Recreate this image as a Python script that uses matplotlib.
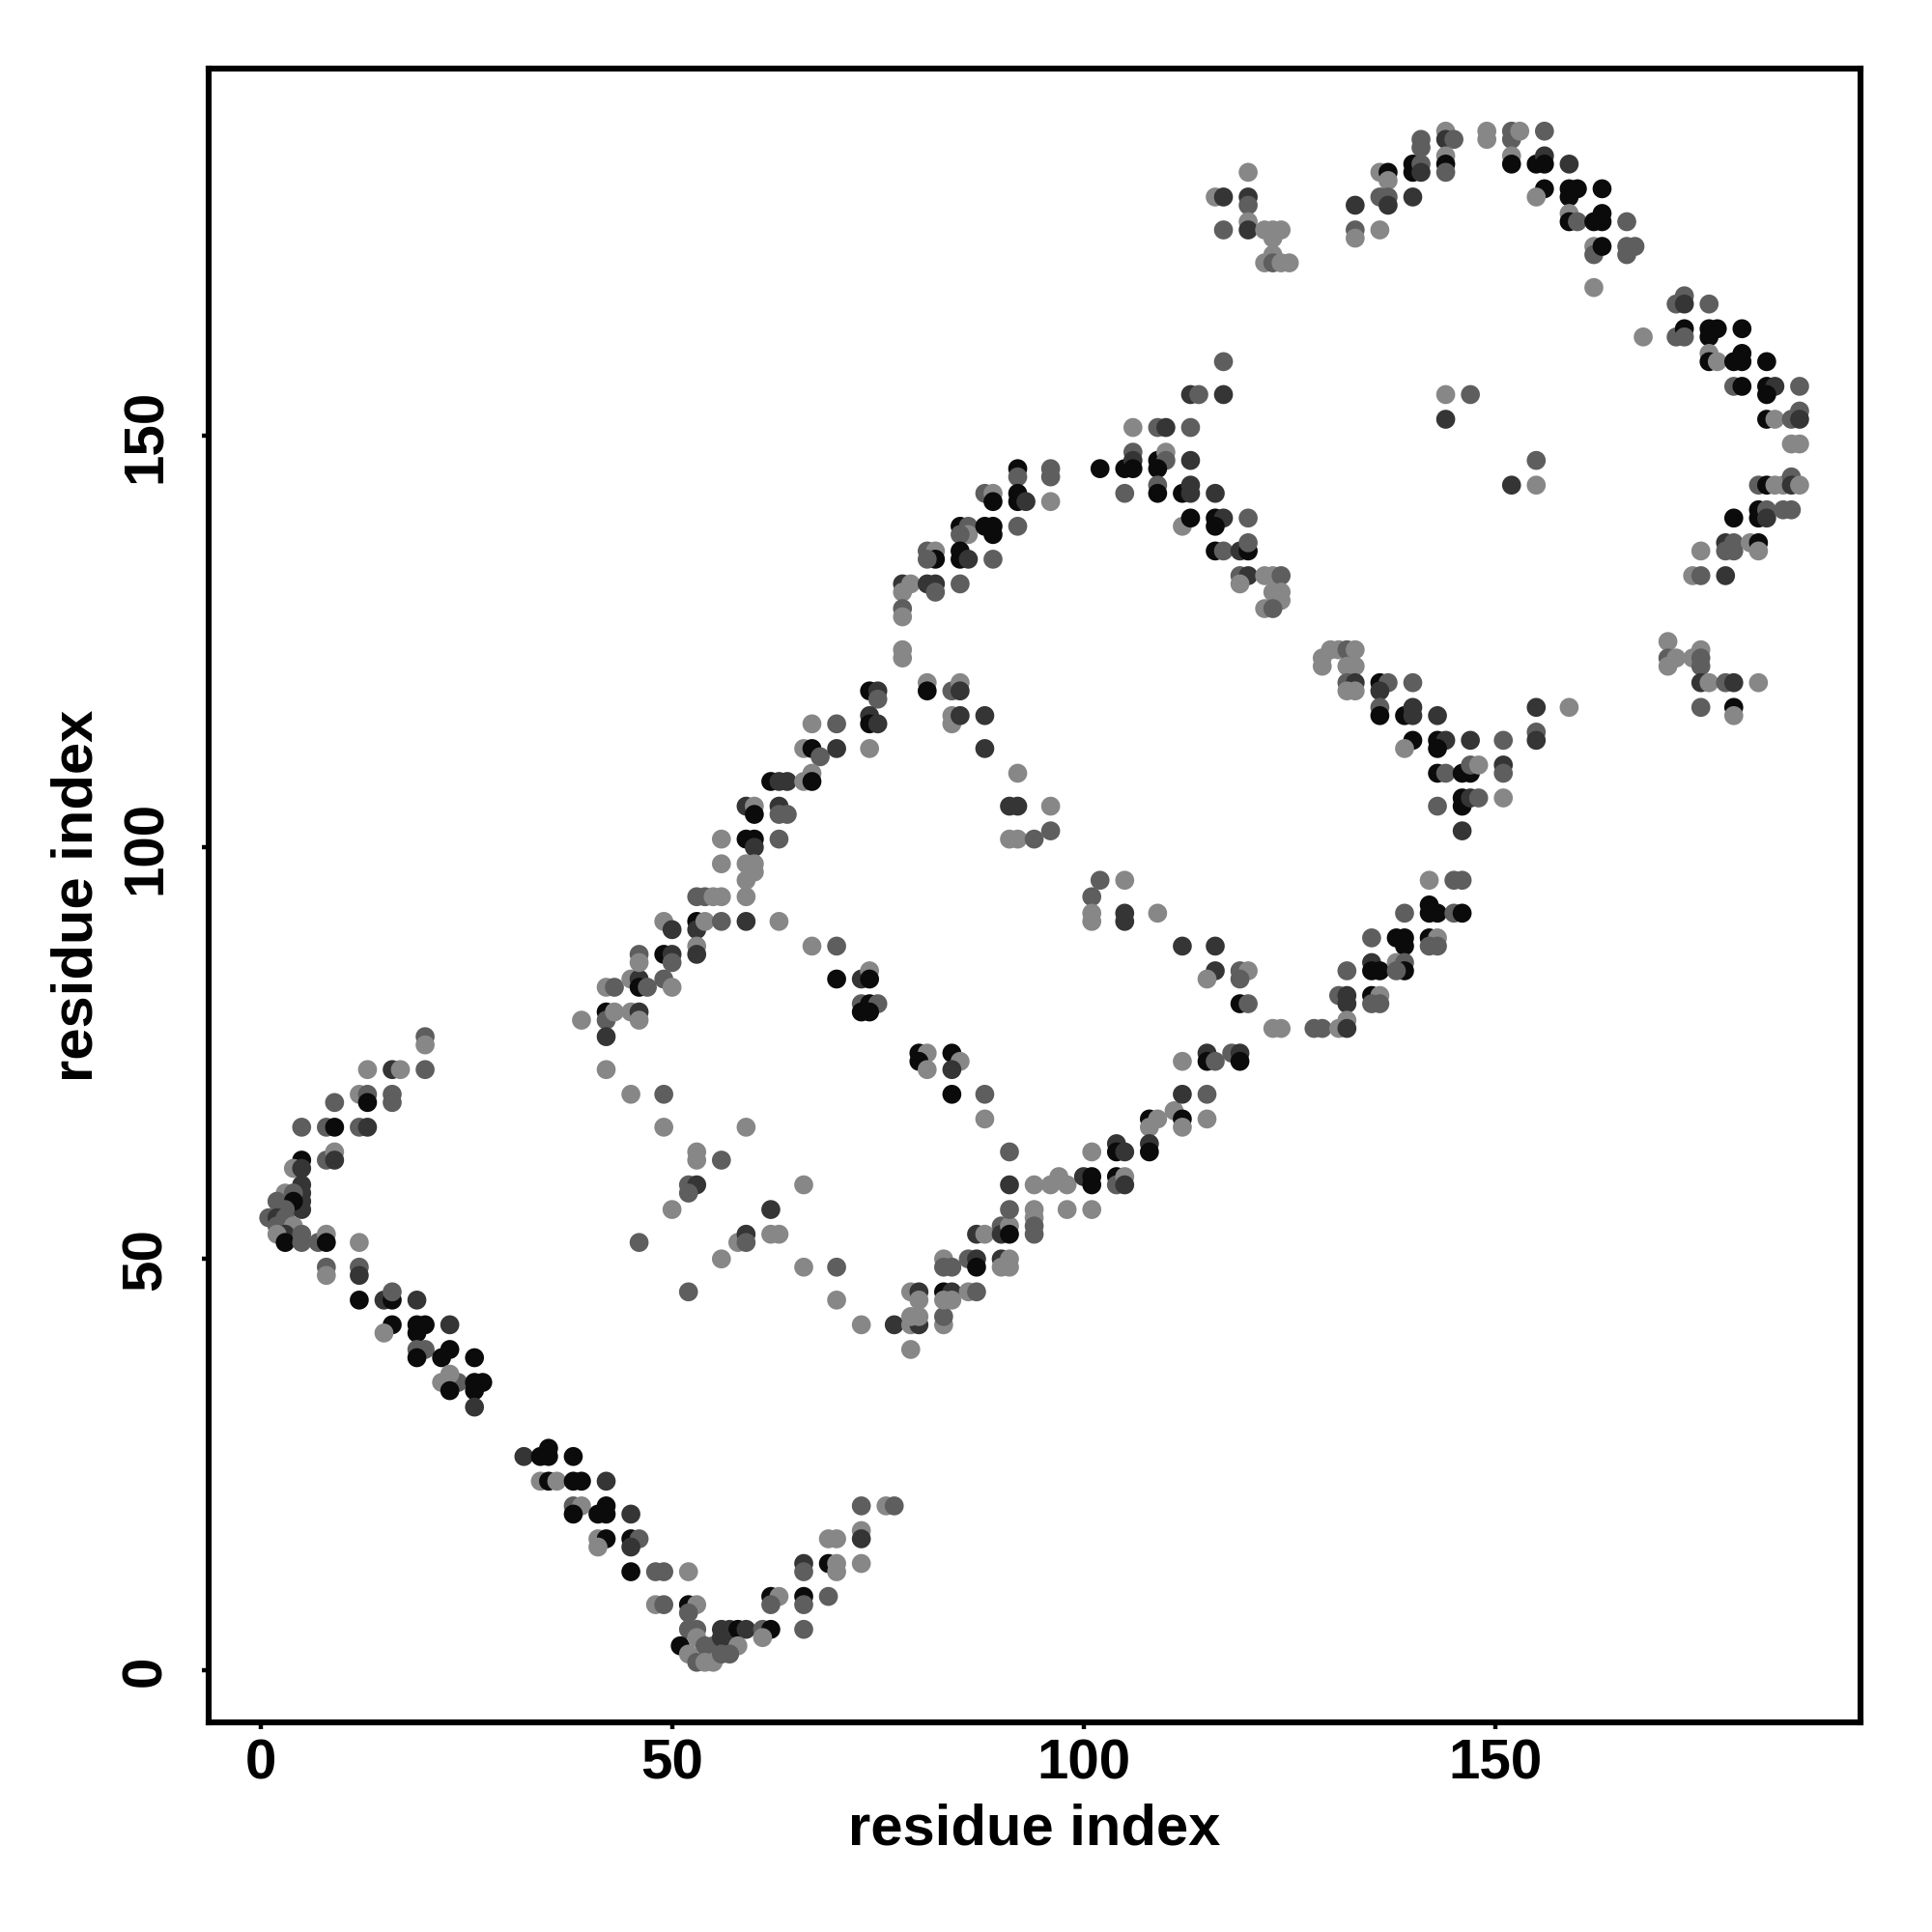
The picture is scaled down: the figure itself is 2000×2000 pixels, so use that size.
import matplotlib
matplotlib.use('Agg')
import matplotlib.pyplot as plt

# contact map: (residue i, residue j, shade) -- shade k=black, d=dark, m=mid, l=light
nose = [(5, 66, 'm'), (8, 66, 'm'), (9, 66, 'k'), (12, 66, 'm'), (13, 66, 'd'),
        (5, 62, 'k'), (4, 61, 'l'), (5, 61, 'd'), (8, 62, 'm'), (9, 63, 'l'), (9, 62, 'd'),
        (5, 59, 'd'), (5, 58, 'd'), (5, 57, 'd'), (5, 56, 'd'), (3, 58, 'l'), (4, 58, 'm'),
        (2, 57, 'm'), (4, 57, 'k'), (3, 56, 'm'), (1, 55, 'm'), (2, 55, 'd'), (3, 55, 'm'),
        (2, 54, 'm'), (4, 54, 'l'), (3, 53, 'd'), (2, 53, 'l'), (3, 52, 'k'), (5, 53, 'm'),
        (5, 52, 'm'), (7, 52, 'm'), (8, 53, 'l'), (8, 52, 'k'), (12, 52, 'l'),
        (8, 49, 'm'), (8, 48, 'l'), (12, 49, 'm'), (12, 48, 'd'),
        (12, 45, 'k'), (15, 45, 'd'), (16, 45, 'k'), (16, 46, 'm'), (19, 45, 'd'),
        (9, 69, 'm'), (12, 70, 'l'), (13, 70, 'm'), (13, 69, 'k'), (16, 70, 'm'), (16, 69, 'm'),
        (13, 73, 'l'), (16, 73, 'd'), (17, 73, 'l'), (20, 73, 'm'), (20, 77, 'm'), (20, 76, 'l')]

low_diag = [(16, 42, 'k'), (19, 42, 'k'), (20, 42, 'k'), (23, 42, 'd'), (15, 41, 'l'), (19, 41, 'k'),
            (19, 39, 'm'), (20, 39, 'm'), (23, 39, 'k'), (19, 38, 'k'), (22, 38, 'k'), (26, 38, 'k'),
            (22, 35, 'l'), (24, 35, 'm'), (26, 35, 'k'), (27, 35, 'k'), (23, 36, 'l'), (23, 34, 'k'),
            (26, 34, 'k'), (26, 32, 'd'),
            (32, 26, 'd'), (34, 26, 'k'), (35, 26, 'k'), (38, 26, 'k'), (35, 27, 'k'),
            (34, 23, 'l'), (35, 23, 'k'), (36, 23, 'l'), (38, 23, 'k'), (39, 23, 'k'), (42, 23, 'd'),
            (38, 20, 'm'), (39, 20, 'l'), (42, 20, 'k'), (38, 19, 'k'), (41, 19, 'k'), (42, 19, 'k'),
            (45, 19, 'd'), (41, 16, 'l'), (42, 16, 'k'), (45, 16, 'k'), (46, 16, 'm'), (41, 15, 'l'),
            (45, 15, 'd'), (45, 12, 'k'), (48, 12, 'm'), (49, 12, 'm'), (48, 8, 'l'), (49, 8, 'm')]

v_bottom = [(69, 16, 'l'), (70, 16, 'l'), (73, 17, 'l'), (73, 16, 'd'),
            (66, 13, 'd'), (66, 12, 'm'), (69, 13, 'k'), (70, 13, 'l'), (70, 12, 'l'), (73, 13, 'l'),
            (52, 12, 'l'), (62, 9, 'k'), (63, 9, 'l'), (62, 8, 'm'), (66, 9, 'k'), (66, 8, 'm'),
            (69, 9, 'm'), (52, 8, 'k'), (53, 8, 'l'), (52, 7, 'm'),
            (52, 5, 'm'), (53, 5, 'm'), (56, 5, 'd'), (57, 5, 'd'), (58, 5, 'k'), (59, 5, 'd'),
            (61, 5, 'm'), (62, 5, 'k'), (61, 4, 'l'), (66, 5, 'm'),
            (51, 3, 'k'), (53, 4, 'l'), (54, 3, 'm'), (55, 3, 'm'), (56, 4, 'd'), (57, 3, 'd'),
            (58, 3, 'l'), (52, 2, 'l'), (53, 1, 'm'), (54, 1, 'l'), (55, 1, 'l'), (56, 2, 'm'),
            (57, 2, 'm'), (73, 20, 'm'), (76, 20, 'l'), (77, 20, 'm')]

mid_left = [(52, 59, 'm'), (53, 59, 'd'), (52, 58, 'm'), (50, 56, 'l'), (62, 56, 'd'), (46, 52, 'm'),
            (58, 52, 'l'), (59, 53, 'd'), (59, 52, 'm'), (62, 53, 'l'), (63, 53, 'l'), (56, 50, 'l'),
            (52, 46, 'm'),
            (39, 79, 'l'), (42, 80, 'k'), (42, 79, 'm'), (43, 80, 'l'), (42, 77, 'd'), (45, 80, 'l'),
            (46, 80, 'd'), (46, 79, 'l'), (42, 83, 'l'), (43, 83, 'm'), (45, 84, 'l'), (46, 84, 'd'),
            (46, 83, 'k'), (47, 83, 'm'), (49, 84, 'm'), (50, 83, 'l'), (46, 87, 'm'), (46, 86, 'l'),
            (49, 87, 'k'), (50, 87, 'd'), (50, 86, 'm'), (49, 91, 'l'), (50, 90, 'd'), (53, 91, 'k'),
            (53, 90, 'd'), (54, 91, 'l'), (56, 91, 'm'), (59, 91, 'd'), (63, 91, 'l'), (53, 88, 'l'),
            (53, 87, 'd'), (53, 94, 'm'), (54, 94, 'm'), (55, 94, 'l'), (56, 94, 'l'), (59, 94, 'l'),
            (56, 101, 'l'), (56, 98, 'l'), (59, 101, 'k'), (60, 101, 'k'), (60, 100, 'd'),
            (59, 98, 'l'), (60, 98, 'l'), (59, 96, 'l'), (60, 97, 'l'), (63, 101, 'm'),
            (59, 105, 'd'), (60, 105, 'l'), (60, 104, 'k'), (63, 105, 'd'), (63, 104, 'm'),
            (62, 108, 'k'), (63, 108, 'd'),
            (42, 73, 'l'), (45, 70, 'l'), (49, 70, 'm'), (49, 66, 'l'), (59, 66, 'l'), (53, 63, 'l'),
            (53, 62, 'l'), (56, 62, 'm')]

centre = [(78, 124, 'l'), (78, 123, 'l'), (74, 119, 'k'), (75, 119, 'd'), (75, 118, 'm'),
          (81, 120, 'l'), (81, 119, 'k'), (84, 119, 'm'), (85, 120, 'l'), (85, 119, 'd'),
          (67, 115, 'l'), (70, 115, 'm'), (74, 116, 'd'), (74, 115, 'k'), (75, 115, 'd'),
          (84, 116, 'l'), (84, 115, 'l'), (85, 116, 'd'), (88, 116, 'd'),
          (66, 112, 'l'), (67, 112, 'k'), (68, 111, 'm'), (70, 112, 'd'), (74, 112, 'l'), (88, 112, 'd'),
          (64, 108, 'd'), (66, 108, 'l'), (67, 109, 'l'), (67, 108, 'k'), (92, 109, 'l'), (64, 104, 'm'),
          (91, 105, 'd'), (92, 105, 'd'), (96, 105, 'l'), (91, 101, 'l'), (92, 101, 'l'),
          (94, 101, 'm'), (96, 102, 'm'),
          (101, 94, 'm'), (102, 96, 'm'), (105, 96, 'l'), (101, 92, 'l'), (101, 91, 'l'),
          (105, 92, 'd'), (105, 91, 'd'), (109, 92, 'l'), (67, 88, 'l'), (70, 88, 'm'),
          (70, 84, 'k'), (73, 84, 'd'), (74, 85, 'l'), (74, 84, 'k'), (73, 81, 'm'), (73, 80, 'k'),
          (74, 81, 'k'), (75, 81, 'm'), (74, 80, 'k'),
          (112, 88, 'd'), (116, 88, 'd'), (116, 85, 'd'), (115, 84, 'l'), (119, 85, 'm'),
          (120, 85, 'l'), (119, 84, 'm'), (119, 81, 'k'), (120, 81, 'm'),
          (123, 78, 'l'), (124, 78, 'l'), (128, 78, 'm'), (129, 78, 'm'),
          (80, 75, 'k'), (81, 75, 'l'), (80, 74, 'k'), (81, 73, 'l'), (84, 75, 'k'), (85, 74, 'l'),
          (84, 73, 'd'), (84, 70, 'k'), (88, 70, 'm'), (88, 67, 'l'),
          (91, 63, 'm'), (101, 63, 'l'), (104, 64, 'd'), (104, 63, 'k'), (105, 63, 'd'),
          (108, 67, 'k'), (109, 67, 'l'), (108, 66, 'l'), (108, 64, 'd'), (108, 63, 'k'),
          (111, 68, 'l'), (112, 67, 'k'), (112, 66, 'l'), (112, 70, 'd'), (115, 70, 'm'), (115, 67, 'l'),
          (112, 74, 'l'), (115, 75, 'd'), (115, 74, 'k'), (116, 74, 'm'), (118, 75, 'm'),
          (119, 75, 'd'), (119, 74, 'k')]

lower_mid = [(66, 59, 'l'), (66, 49, 'l'), (70, 49, 'm'), (70, 45, 'l'),
             (73, 42, 'l'), (77, 42, 'd'), (79, 42, 'l'), (80, 42, 'd'), (79, 43, 'l'), (80, 43, 'l'),
             (83, 42, 'l'), (83, 43, 'm'), (79, 39, 'l'),
             (79, 46, 'l'), (80, 46, 'd'), (80, 45, 'l'), (83, 46, 'k'), (84, 46, 'd'), (84, 45, 'l'),
             (83, 45, 'l'), (86, 46, 'l'), (87, 46, 'm'),
             (83, 50, 'l'), (83, 49, 'm'), (84, 49, 'm'), (86, 50, 'm'), (87, 50, 'd'), (87, 49, 'k'),
             (90, 50, 'd'), (91, 50, 'l'), (90, 49, 'l'), (91, 49, 'l'),
             (87, 53, 'd'), (88, 53, 'l'), (90, 54, 'm'), (90, 53, 'd'), (91, 54, 'l'), (91, 53, 'k'),
             (94, 56, 'l'), (94, 55, 'l'), (94, 54, 'm'), (94, 53, 'm'), (91, 56, 'm'),
             (91, 59, 'd'), (94, 59, 'l'), (96, 59, 'l'), (97, 60, 'l'), (98, 59, 'l'), (98, 56, 'l'),
             (101, 56, 'l'), (100, 60, 'd'), (101, 60, 'k'), (101, 59, 'k'), (104, 60, 'k'),
             (104, 59, 'm'), (105, 60, 'l'), (105, 59, 'd')]

right_mid = [(129, 123, 'l'), (130, 124, 'l'), (131, 124, 'l'), (132, 124, 'm'), (133, 124, 'l'),
             (129, 122, 'l'), (132, 122, 'l'), (133, 122, 'l'), (132, 120, 'm'), (133, 120, 'd'),
             (132, 119, 'l'), (133, 119, 'l'), (136, 120, 'k'), (137, 120, 'm'), (140, 120, 'm'),
             (136, 119, 'd'), (136, 117, 'm'), (136, 116, 'k'), (139, 116, 'k'), (140, 117, 'd'),
             (140, 116, 'd'), (143, 116, 'd'), (140, 113, 'k'), (139, 112, 'l'), (143, 113, 'k'),
             (144, 113, 'd'), (143, 112, 'k'), (147, 113, 'd'), (151, 113, 'm'),
             (143, 109, 'k'), (144, 109, 'm'), (146, 109, 'k'), (147, 109, 'k'), (147, 110, 'm'),
             (148, 110, 'l'), (151, 110, 'd'), (151, 109, 'm'), (143, 105, 'm'), (146, 106, 'k'),
             (146, 105, 'k'), (147, 106, 'd'), (148, 106, 'm'), (151, 106, 'l'), (146, 102, 'd'),
             (155, 117, 'd'), (159, 117, 'l'), (155, 114, 'm'), (155, 113, 'd'),
             (171, 125, 'l'), (171, 123, 'm'), (171, 122, 'l'), (172, 123, 'l'), (174, 123, 'l'),
             (175, 124, 'l'), (175, 123, 'm'), (175, 122, 'm'), (175, 120, 'd'), (176, 120, 'l'),
             (178, 120, 'm'), (179, 120, 'd'), (182, 120, 'l'), (175, 117, 'm'), (179, 117, 'k'),
             (179, 116, 'l'),
             (142, 96, 'l'), (145, 96, 'm'), (146, 96, 'm'), (142, 93, 'k'), (142, 92, 'k'),
             (143, 92, 'k'), (145, 92, 'm'), (146, 92, 'k'), (139, 92, 'm'),
             (135, 89, 'm'), (138, 89, 'k'), (139, 89, 'k'), (139, 88, 'k'), (142, 89, 'k'),
             (143, 89, 'l'), (142, 88, 'm'), (143, 88, 'm'),
             (132, 85, 'm'), (135, 86, 'd'), (135, 85, 'k'), (136, 85, 'k'), (138, 86, 'l'),
             (139, 86, 'm'), (139, 85, 'k'), (138, 85, 'm'),
             (131, 82, 'm'), (132, 82, 'd'), (132, 81, 'd'), (135, 82, 'k'), (136, 82, 'l'),
             (135, 81, 'm'), (136, 81, 'm'), (131, 78, 'l'), (132, 79, 'l'), (132, 78, 'd')]

upper_mid = [(120, 182, 'l'), (116, 179, 'l'), (117, 179, 'd'), (120, 179, 'd'), (120, 178, 'm'),
             (117, 175, 'm'), (120, 176, 'l'), (120, 175, 'd'), (122, 175, 'l'), (123, 175, 'l'),
             (124, 175, 'l'), (123, 174, 'l'), (122, 171, 'l'), (123, 172, 'l'), (123, 171, 'm'),
             (124, 171, 'l'), (125, 171, 'l'),
             (117, 159, 'm'), (113, 155, 'd'), (114, 155, 'm'), (117, 155, 'd'),
             (106, 151, 'l'), (109, 151, 'm'), (110, 151, 'd'), (113, 151, 'm'),
             (102, 146, 'k'), (105, 146, 'k'), (106, 148, 'm'), (106, 147, 'd'), (106, 146, 'k'),
             (109, 147, 'k'), (110, 148, 'l'), (110, 147, 'm'), (109, 146, 'k'), (113, 147, 'd'),
             (105, 143, 'm'), (109, 144, 'm'), (109, 143, 'k'), (112, 143, 'k'), (113, 144, 'd'),
             (113, 143, 'd'), (116, 143, 'd'),
             (112, 139, 'l'), (113, 140, 'k'), (116, 140, 'k'), (117, 140, 'd'), (116, 139, 'k'),
             (120, 140, 'm'), (116, 136, 'k'), (117, 136, 'm'), (119, 136, 'd'), (120, 136, 'k'),
             (120, 137, 'm'),
             (119, 133, 'm'), (120, 133, 'd'), (119, 132, 'l'), (122, 133, 'l'), (123, 133, 'l'),
             (124, 133, 'm'), (123, 131, 'l'), (124, 131, 'l'), (124, 130, 'l'), (122, 129, 'l'),
             (123, 129, 'm'),
             (92, 146, 'k'), (92, 145, 'm'), (96, 146, 'm'), (96, 145, 'm'), (96, 142, 'l'),
             (88, 143, 'm'), (89, 143, 'l'), (89, 142, 'k'), (92, 143, 'k'), (92, 142, 'k'),
             (93, 142, 'd'),
             (85, 139, 'k'), (86, 139, 'm'), (86, 138, 'l'), (85, 138, 'm'), (88, 139, 'k'),
             (89, 139, 'k'), (89, 138, 'k'), (92, 139, 'm'),
             (81, 136, 'm'), (82, 136, 'l'), (82, 135, 'k'), (81, 135, 'm'), (85, 136, 'k'),
             (85, 135, 'k'), (86, 135, 'd'), (89, 135, 'm'),
             (78, 132, 'd'), (79, 132, 'l'), (78, 131, 'l'), (81, 132, 'd'), (82, 132, 'd'),
             (82, 131, 'm'), (85, 132, 'm'), (78, 129, 'm'), (78, 128, 'l')]

top_arc = [(133, 178, 'd'), (133, 175, 'm'), (133, 174, 'l'), (136, 175, 'l'),
           (136, 182, 'l'), (137, 182, 'k'), (137, 181, 'l'), (136, 179, 'm'), (137, 179, 'm'),
           (137, 178, 'd'), (140, 179, 'd'), (140, 183, 'k'), (140, 182, 'k'), (141, 183, 'm'),
           (141, 182, 'd'), (141, 186, 'm'), (141, 185, 'm'), (144, 187, 'l'), (144, 186, 'd'),
           (145, 186, 'm'), (144, 184, 'l'), (144, 183, 'k'), (144, 182, 'm'),
           (149, 187, 'l'), (149, 186, 'l'), (152, 187, 'm'), (152, 186, 'm'), (153, 187, 'l'),
           (156, 187, 'm'), (152, 184, 'l'), (152, 183, 'k'), (155, 183, 'k'), (156, 184, 'd'),
           (156, 183, 'k'), (159, 183, 'd'),
           (156, 180, 'k'), (155, 179, 'l'), (159, 180, 'k'), (160, 180, 'k'), (159, 179, 'k'),
           (163, 180, 'k'), (159, 177, 'l'), (159, 176, 'k'), (160, 176, 'm'), (162, 176, 'k'),
           (163, 177, 'k'), (163, 176, 'k'), (166, 176, 'm'),
           (162, 173, 'l'), (162, 172, 'm'), (163, 173, 'k'), (166, 173, 'm'), (167, 173, 'm'),
           (166, 172, 'm'), (162, 168, 'l'), (168, 162, 'l'),
           (172, 166, 'm'), (173, 167, 'm'), (173, 166, 'd'), (176, 166, 'm'),
           (172, 162, 'm'), (173, 163, 'k'), (173, 162, 'm'), (176, 163, 'k'), (177, 163, 'k'),
           (176, 162, 'k'), (180, 163, 'k'),
           (176, 160, 'l'), (176, 159, 'k'), (177, 159, 'l'), (179, 159, 'k'), (180, 160, 'k'),
           (180, 159, 'k'), (183, 159, 'k'),
           (179, 156, 'm'), (180, 156, 'k'), (183, 156, 'k'), (184, 156, 'd'), (183, 155, 'k'),
           (187, 156, 'm'), (183, 152, 'k'), (184, 152, 'l'), (186, 152, 'm'), (187, 153, 'm'),
           (187, 152, 'd'), (186, 149, 'l'), (187, 149, 'l'),
           (182, 144, 'm'), (183, 144, 'k'), (184, 144, 'l'), (185, 144, 'l'), (186, 145, 'm'),
           (186, 144, 'd'), (187, 144, 'l'),
           (179, 140, 'k'), (182, 141, 'k'), (182, 140, 'k'), (183, 141, 'm'), (183, 140, 'd'),
           (185, 141, 'm'), (186, 141, 'm'),
           (175, 136, 'l'), (178, 137, 'd'), (179, 137, 'm'), (178, 136, 'm'), (179, 136, 'm'),
           (181, 137, 'l'), (182, 137, 'k'), (182, 136, 'l'),
           (174, 133, 'l'), (175, 133, 'm'), (178, 133, 'd'),
           (144, 155, 'l'), (147, 155, 'm'), (144, 152, 'd'), (155, 147, 'm'), (152, 144, 'd'),
           (155, 144, 'l')]

shade_colors = {'k': '#0b0b0b', 'd': '#353535', 'm': '#5e5e5e', 'l': '#878787'}
ticks = [0, 50, 100, 150]

contacts = nose + low_diag + v_bottom + mid_left + centre + lower_mid + right_mid + upper_mid + top_arc
res_i = [c[0] for c in contacts]
res_j = [c[1] for c in contacts]
colors = [shade_colors[c[2]] for c in contacts]

plt.rcParams['font.family'] = ['Liberation Sans', 'DejaVu Sans']
plt.rcParams['font.weight'] = 'bold'

fig = plt.figure(figsize=(10, 10), dpi=200)
ax = fig.add_axes([0.108, 0.1085, 0.855, 0.856])
ax.scatter(res_i, res_j, s=50, c=colors, linewidths=0)

ax.set_xlim(-6.3, 194.4)
ax.set_ylim(-6.3, 194.6)
ax.set_xticks(ticks)
ax.set_yticks(ticks)
ax.set_xticklabels([str(t) for t in ticks], fontsize=21, fontweight='bold')
ax.set_yticklabels([str(t) for t in ticks], fontsize=21, fontweight='bold',
                   rotation=90, va='center')
ax.tick_params(axis='both', length=2.5, width=1.6, direction='out')
ax.tick_params(axis='x', pad=3.5)
ax.tick_params(axis='y', pad=11)
for sp in ax.spines.values():
    sp.set_linewidth(2.2)

ax.set_xlabel('residue index', fontsize=21.5, fontweight='bold', labelpad=4.5)
ax.set_ylabel('residue index', fontsize=21.5, fontweight='bold', labelpad=6)

fig.savefig('out.png', dpi=200, facecolor='white')
